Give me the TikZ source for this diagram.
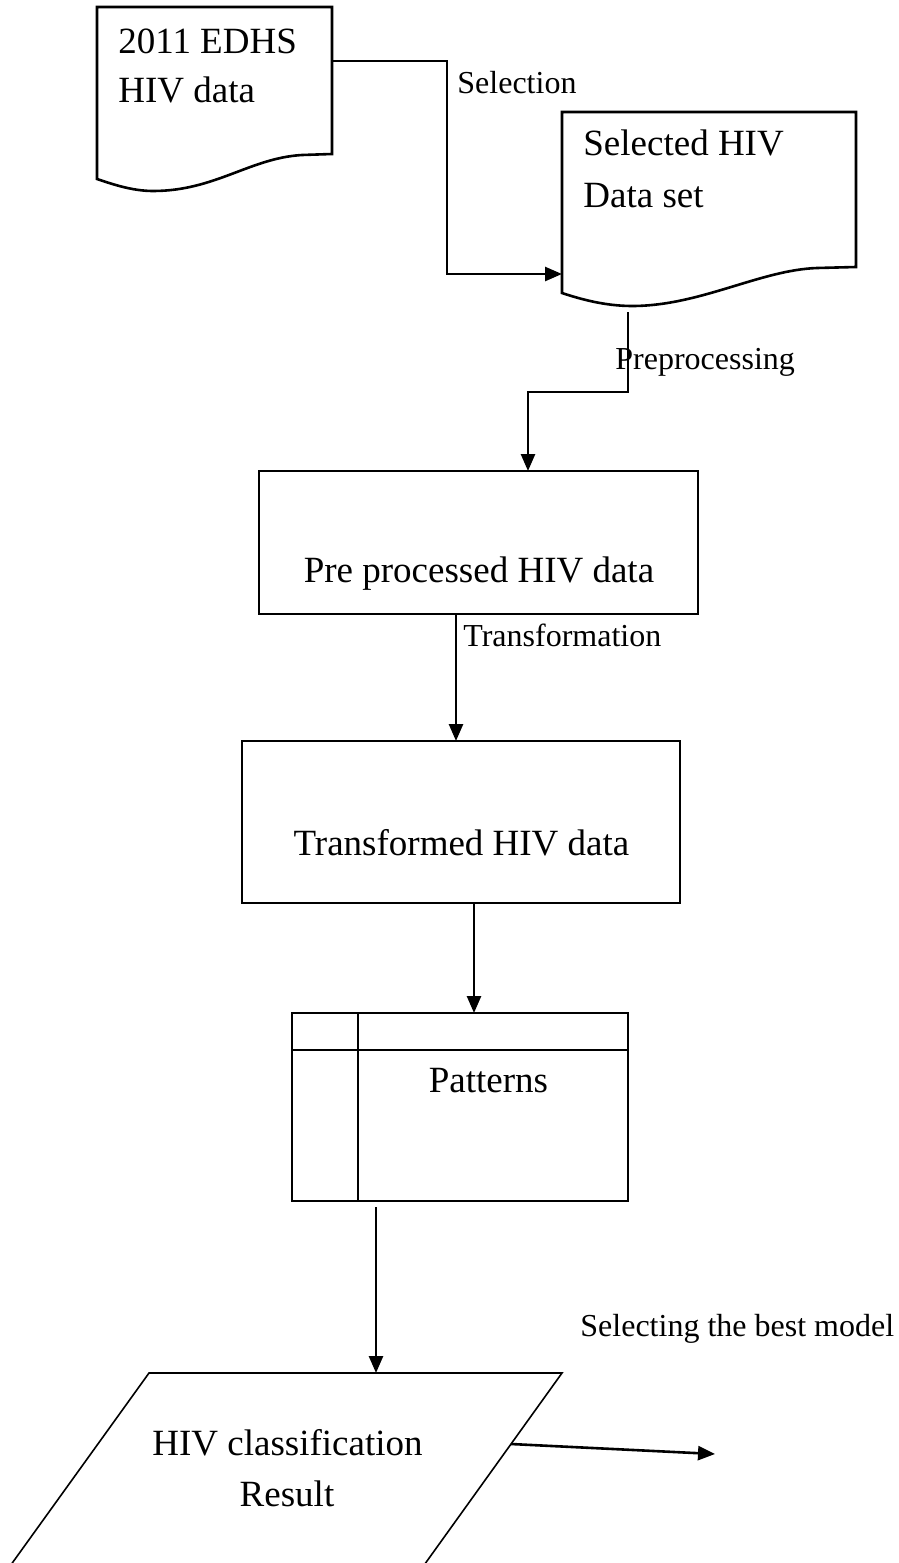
\documentclass[tikz,border=0pt]{standalone}
\usepackage{fontspec}
\setmainfont{Liberation Serif}
\usetikzlibrary{arrows.meta}
\begin{document}
\begin{tikzpicture}[x=0.5pt,y=-0.5pt,
  outline/.style={draw=black,line width=1.3pt,line join=miter},
  thinline/.style={draw=black,line width=0.8pt},
  boxshape/.style={draw=black,line width=1.3pt,inner sep=0pt,outer sep=0pt},
  link/.style={draw=black,line width=1.3pt,-{Triangle[length=8.5pt,width=7pt]}},
  bigtext/.style={inner sep=0pt,font=\fontsize{18.5}{22}\selectfont},
  smalltext/.style={inner sep=0pt,font=\fontsize{16}{19}\selectfont}]
\useasboundingbox (0,0) rectangle (899,1563);
\clip (0,0) rectangle (899,1563);

% source document
\draw[outline] (97,7) -- (332,7) -- (332,154) -- (302,155)
  .. controls (250,158) and (215,191) .. (153,191)
  .. controls (132,191) and (112,184) .. (97,179) -- cycle;
\node[bigtext,anchor=base west] (srcA) at (118,53) {2011 EDHS};
\node[bigtext,anchor=base west] (srcB) at (118,102) {HIV data};

% selected document
\draw[outline] (562,112) -- (856,112) -- (856,267) -- (817,268)
  .. controls (760,270) and (700,306) .. (632,306)
  .. controls (605,306) and (580,299) .. (562,293) -- cycle;
\node[bigtext,anchor=base west] (selA) at (583,155) {Selected HIV};
\node[bigtext,anchor=base west] (selB) at (583,207) {Data set};

% process boxes
\node[boxshape,minimum width=219.5pt,minimum height=71.5pt] (pre) at (478.5,542.5) {};
\node[bigtext,anchor=base] (preT) at (479,582) {Pre processed HIV data};

\node[boxshape,minimum width=219pt,minimum height=81pt] (trn) at (461,822) {};
\node[bigtext,anchor=base] (trnT) at (461.5,855) {Transformed HIV data};

\node[boxshape,minimum width=168pt,minimum height=94pt] (pat) at (460,1107) {};
\draw[line width=1.3pt] (292,1050) -- (628,1050);
\draw[line width=1.3pt] (358,1013) -- (358,1201);
\node[bigtext,anchor=base] (patT) at (488.5,1092) {Patterns};

% result parallelogram
\draw[thinline] (-14.4,1600) -- (149,1373) -- (562,1373) -- (399,1600);
\node[bigtext,anchor=base] (resA) at (287.5,1455) {HIV classification};
\node[bigtext,anchor=base] (resB) at (287,1506) {Result};

% connection points
\coordinate (srcOut) at (332,61);
\coordinate (selIn) at (562,274);
\coordinate (selOut) at (628,312);
\coordinate (preIn) at (528,471);
\coordinate (preOut) at (456,614);
\coordinate (trnIn) at (456,741);
\coordinate (trnOut) at (474,903);
\coordinate (patIn) at (474,1013);
\coordinate (patOut) at (376,1207);
\coordinate (resIn) at (376,1373);
\coordinate (resOut) at (511,1444);
\coordinate (bestEnd) at (715,1454);

% connectors
\draw[link] (srcOut) -- (447,61) |- (selIn);
\draw[link] (selOut) -- (628,392) -| (preIn);
\draw[link] (preOut) -- (trnIn);
\draw[link] (trnOut) -- (patIn);
\draw[link] (patOut) -- (resIn);
\draw[link] (resOut) -- (bestEnd);

% labels
\node[smalltext,anchor=base west] (lblSel) at (457,93) {Selection};
\node[smalltext,anchor=base west] (lblPre) at (615,369) {Preprocessing};
\node[smalltext,anchor=base west] (lblTrn) at (463,646) {Transformation};
\node[smalltext,anchor=base west] (lblBest) at (580,1336) {Selecting the best model};
\end{tikzpicture}
\end{document}
